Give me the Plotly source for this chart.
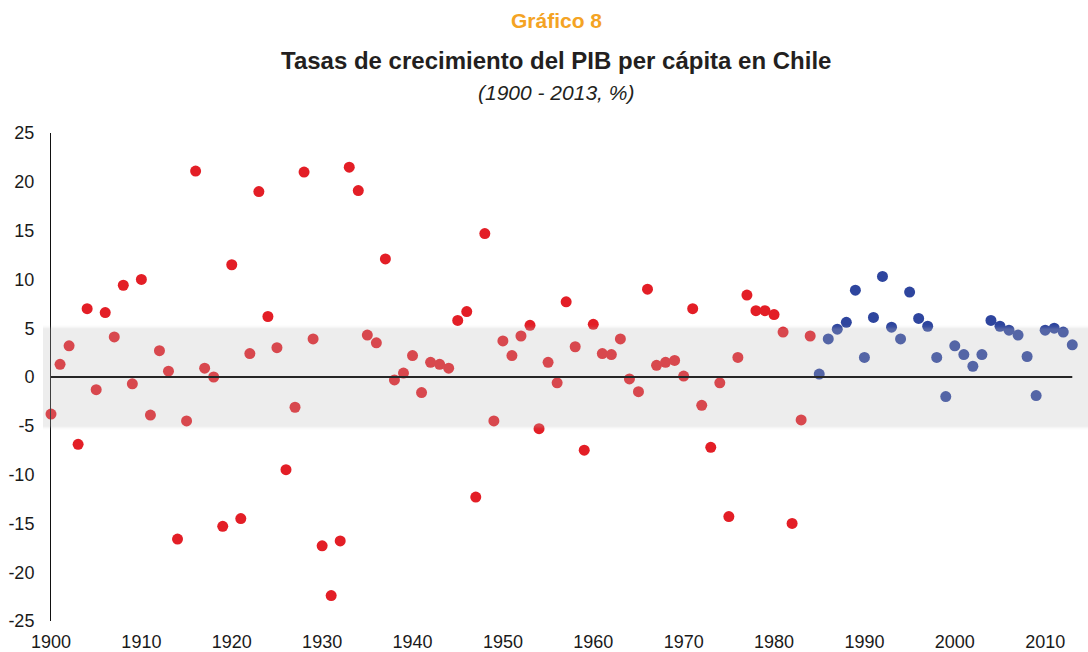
import plotly.graph_objects as go

# ---- data ----
years_red = list(range(1900, 1985))
growth_red = [
    -3.8, 1.3, 3.2, -6.9, 7.0, -1.3, 6.6, 4.1, 9.4, -0.7,
    10.0, -3.9, 2.7, 0.6, -16.6, -4.5, 21.1, 0.9, 0.0, -15.3,
    11.5, -14.5, 2.4, 19.0, 6.2, 3.0, -9.5, -3.1, 21.0, 3.9,
    -17.3, -22.4, -16.8, 21.5, 19.1, 4.3, 3.5, 12.1, -0.3, 0.4,
    2.2, -1.6, 1.5, 1.3, 0.9, 5.8, 6.7, -12.3, 14.7, -4.5,
    3.7, 2.2, 4.2, 5.3, -5.3, 1.5, -0.6, 7.7, 3.1, -7.5,
    5.4, 2.4, 2.3, 3.9, -0.2, -1.5, 9.0, 1.2, 1.5, 1.7,
    0.1, 7.0, -2.9, -7.2, -0.6, -14.3, 2.0, 8.4, 6.8, 6.8,
    6.4, 4.6, -15.0, -4.4, 4.2,
]
years_blue = list(range(1985, 2014))
growth_blue = [
    0.3, 3.9, 4.9, 5.6, 8.9, 2.0, 6.1, 10.3, 5.1, 3.9,
    8.7, 6.0, 5.2, 2.0, -2.0, 3.2, 2.3, 1.1, 2.3, 5.8,
    5.2, 4.8, 4.3, 2.1, -1.9, 4.8, 5.0, 4.6, 3.3,
]
y_ticks = [-25, -20, -15, -10, -5, 0, 5, 10, 15, 20, 25]
x_ticks = list(range(1900, 2011, 10))
band_low, band_high = -5.1, 5.0

FONT = "Arial, Liberation Sans, sans-serif"
RED = "#E31E26"
BLUE = "#2E459E"

fig = go.Figure()
fig.add_trace(go.Scatter(
    x=years_red, y=growth_red, mode="markers",
    marker=dict(size=11, color=RED, line=dict(width=0)),
    cliponaxis=False, showlegend=False, hoverinfo="x+y"))
fig.add_trace(go.Scatter(
    x=years_blue, y=growth_blue, mode="markers",
    marker=dict(size=11, color=BLUE, line=dict(width=0)),
    cliponaxis=False, showlegend=False, hoverinfo="x+y"))

L, R, T, B = 51, 13, 133, 31
W, H = 1088, 652
pw = W - L - R
ph = H - T - B

def px_x(p):
    return (p - L) / pw

def px_y(p):
    return (H - B - p) / ph

# grey band drawn over the points (semi-transparent)
fig.add_shape(type="rect", xref="paper", yref="y",
              x0=px_x(43), x1=px_x(1088), y0=band_low, y1=band_high,
              fillcolor="rgba(188,188,188,0.27)", line=dict(width=0), layer="above")
# soft edges
for d, a in [(0.15, 0.10), (0.3, 0.05)]:
    fig.add_shape(type="rect", xref="paper", yref="y",
                  x0=px_x(43), x1=px_x(1088), y0=band_high, y1=band_high + d,
                  fillcolor=f"rgba(188,188,188,{a})", line=dict(width=0), layer="above")
    fig.add_shape(type="rect", xref="paper", yref="y",
                  x0=px_x(43), x1=px_x(1088), y0=band_low - d, y1=band_low,
                  fillcolor=f"rgba(188,188,188,{a})", line=dict(width=0), layer="above")
# zero line
fig.add_shape(type="line", xref="x", yref="y", x0=1900, x1=2013, y0=0, y1=0,
              line=dict(color="#262626", width=2), layer="above")

# titles
fig.add_annotation(text="<b>Gráfico 8</b>", xref="paper", yref="paper",
                   x=px_x(556), y=px_y(20), showarrow=False, yanchor="middle",
                   font=dict(family=FONT, size=21, color="#F4A324"))
fig.add_annotation(text="<b>Tasas de crecimiento del PIB per cápita en Chile</b>",
                   xref="paper", yref="paper", x=px_x(556), y=px_y(60),
                   showarrow=False, yanchor="middle",
                   font=dict(family=FONT, size=24, color="#231F20"))
fig.add_annotation(text="<i>(1900 - 2013, %)</i>", xref="paper", yref="paper",
                   x=px_x(556), y=px_y(93), showarrow=False, yanchor="middle",
                   font=dict(family=FONT, size=21, color="#231F20"))

fig.update_layout(
    width=W, height=H,
    margin=dict(l=L, r=R, t=T, b=B, pad=0, autoexpand=False),
    paper_bgcolor="white", plot_bgcolor="white",
    font=dict(family=FONT, size=18, color="#1a1a1a"),
    xaxis=dict(range=[1900, 2013.3], tickvals=x_ticks,
               ticktext=[str(v) for v in x_ticks],
               showgrid=False, zeroline=False, showline=False, ticks="",
               ticklabelstandoff=8, automargin=False),
    yaxis=dict(range=[-25, 25], tickvals=y_ticks,
               ticktext=[str(v) for v in y_ticks],
               showgrid=False, zeroline=False, showline=True,
               linecolor="#111111", linewidth=1, ticks="",
               ticklabelstandoff=12, automargin=False),
)

fig.write_html(
    "out.html",
    config={"displayModeBar": False},
    post_script="document.body.style.margin='0';document.body.style.overflow='hidden';",
)
